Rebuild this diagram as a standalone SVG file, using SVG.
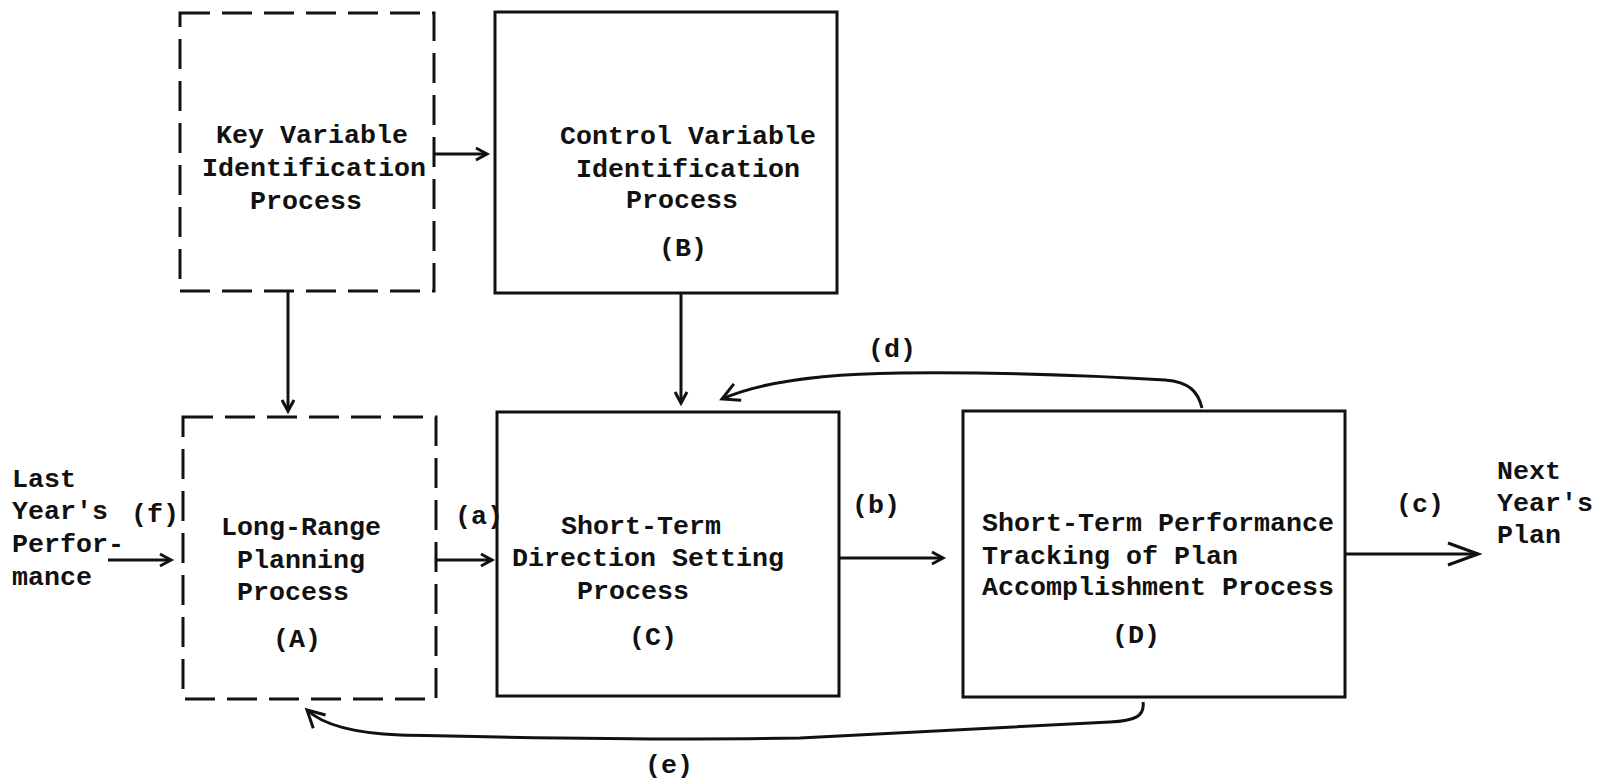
<svg xmlns="http://www.w3.org/2000/svg" width="1608" height="782" viewBox="0 0 1608 782">
<style>
  .box{fill:none;stroke:#111;stroke-width:3}
  .dash{fill:none;stroke:#111;stroke-width:3;stroke-dasharray:30 12}
  .t{font-family:"Liberation Mono","Courier New",monospace;font-size:26.67px;font-weight:bold;fill:#111}
  .c{fill:none;stroke:#111;stroke-width:3}
</style>
<defs>
  <marker id="ah" markerUnits="userSpaceOnUse" viewBox="-16 -10 20 20" refX="0" refY="0" markerWidth="20" markerHeight="20" orient="auto">
    <path d="M-11,-6 L0,0 L-11,6" fill="none" stroke="#111" stroke-width="3"/>
  </marker>
  <marker id="big" markerUnits="userSpaceOnUse" viewBox="-36 -16 40 32" refX="0" refY="0" markerWidth="40" markerHeight="32" orient="auto">
    <path d="M-30,-11 L0,0 L-30,11" fill="none" stroke="#111" stroke-width="3"/>
  </marker>
  <marker id="cv" markerUnits="userSpaceOnUse" viewBox="-24 -14 28 28" refX="0" refY="0" markerWidth="28" markerHeight="28" orient="auto">
    <path d="M-17,-9 L0,0 L-17,9" fill="none" stroke="#111" stroke-width="3"/>
  </marker>
</defs>

<g id="node-key">
  <rect class="dash" x="180" y="13" width="254" height="278"/>
  <text class="t" x="216" y="143">Key Variable</text>
  <text class="t" x="202" y="176">Identification</text>
  <text class="t" x="250" y="209">Process</text>
</g>

<g id="node-B">
  <rect class="box" x="495" y="12" width="342" height="281"/>
  <text class="t" x="560" y="144">Control Variable</text>
  <text class="t" x="576" y="177">Identification</text>
  <text class="t" x="626" y="208">Process</text>
  <text class="t" x="659" y="256">(B)</text>
</g>

<g id="node-A">
  <rect class="dash" x="183" y="417" width="253" height="282"/>
  <text class="t" x="221" y="535">Long-Range</text>
  <text class="t" x="237" y="568">Planning</text>
  <text class="t" x="237" y="600">Process</text>
  <text class="t" x="273" y="647">(A)</text>
</g>

<g id="node-C">
  <rect class="box" x="497" y="412" width="342" height="284"/>
  <text class="t" x="561" y="534">Short-Term</text>
  <text class="t" x="512" y="566">Direction Setting</text>
  <text class="t" x="577" y="599">Process</text>
  <text class="t" x="629" y="645">(C)</text>
</g>

<g id="node-D">
  <rect class="box" x="963" y="411" width="382" height="286"/>
  <text class="t" x="982" y="531">Short-Term Performance</text>
  <text class="t" x="982" y="564">Tracking of Plan</text>
  <text class="t" x="982" y="595">Accomplishment Process</text>
  <text class="t" x="1112" y="643">(D)</text>
</g>

<g id="input-label">
  <text class="t" x="12" y="487">Last</text>
  <text class="t" x="12" y="519">Year's</text>
  <text class="t" x="12" y="552">Perfor-</text>
  <text class="t" x="12" y="585">mance</text>
</g>

<g id="output-label">
  <text class="t" x="1497" y="479">Next</text>
  <text class="t" x="1497" y="511">Year's</text>
  <text class="t" x="1497" y="543">Plan</text>
</g>

<g id="connectors">
  <line class="c" x1="434" y1="154" x2="487" y2="154" marker-end="url(#ah)"/>
  <line class="c" x1="288" y1="291" x2="288" y2="411" marker-end="url(#ah)"/>
  <line class="c" x1="681" y1="293" x2="681" y2="403" marker-end="url(#ah)"/>
  <line class="c" x1="108" y1="560" x2="171" y2="560" marker-end="url(#ah)"/>
  <line class="c" x1="437" y1="560" x2="492" y2="560" marker-end="url(#ah)"/>
  <line class="c" x1="839" y1="558" x2="943" y2="558" marker-end="url(#ah)"/>
  <line class="c" x1="1345" y1="554" x2="1478" y2="554" marker-end="url(#big)"/>
  <path class="c" d="M1202,408 C1198,392 1190,382 1165,380 C1100,376 1000,372 900,373 C820,374 760,382 722,399" marker-end="url(#cv)"/>
  <path class="c" d="M1143,702 C1145,716 1135,721 1110,722 C1000,727 900,733 800,738 C650,741 500,737 400,735 C350,733 322,724 307,710" marker-end="url(#cv)"/>
  <text class="t" x="131" y="522">(f)</text>
  <text class="t" x="455" y="524">(a)</text>
  <text class="t" x="852" y="513">(b)</text>
  <text class="t" x="1396" y="512">(c)</text>
  <text class="t" x="868" y="357">(d)</text>
  <text class="t" x="645" y="773">(e)</text>
</g>
</svg>
